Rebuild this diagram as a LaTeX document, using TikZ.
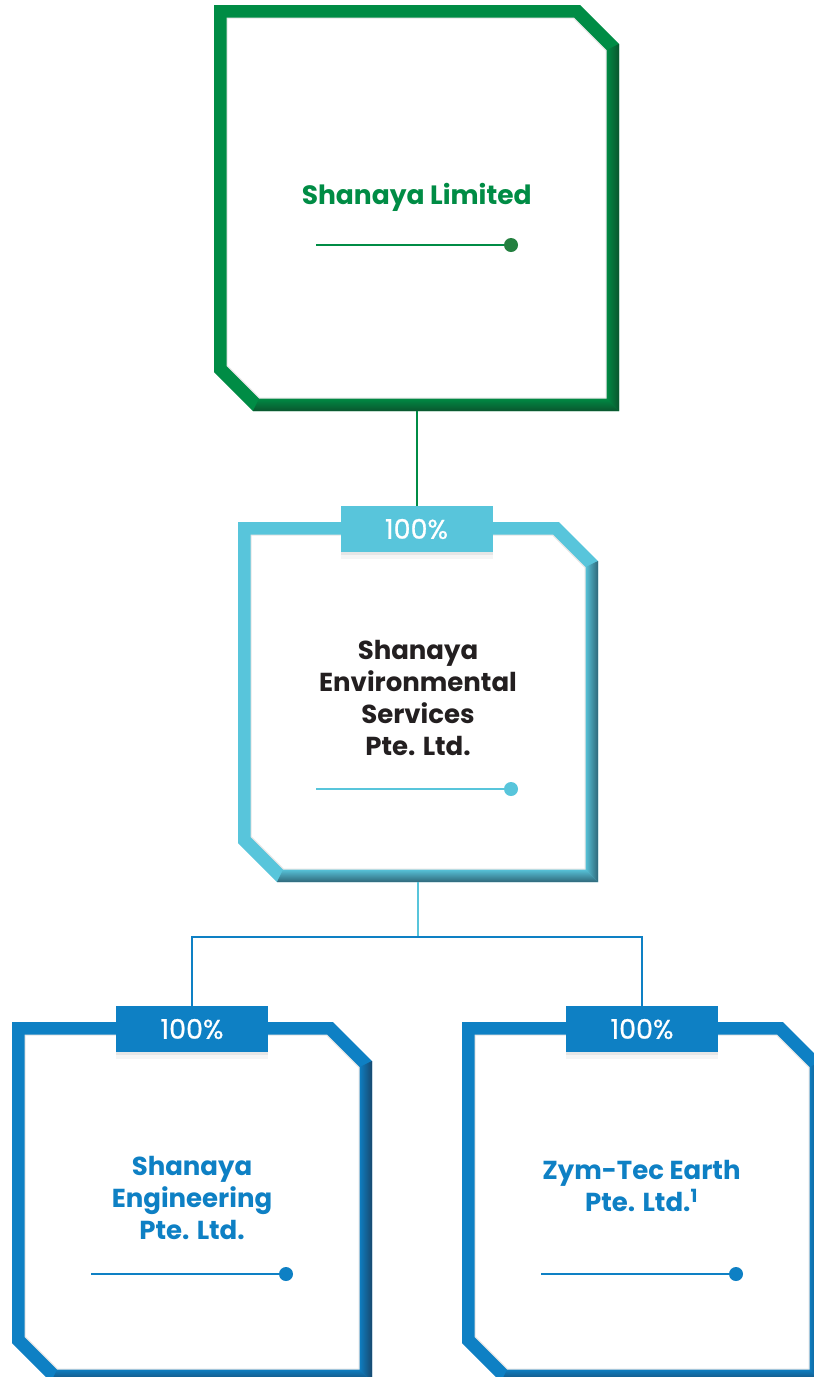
\documentclass[tikz,border=0pt]{standalone}
\usepackage{fontspec}
\setmainfont{Poppins}
\newfontfamily\pctfont[FakeBold=0.8]{Poppins}
\usetikzlibrary{shadows}
\definecolor{shgreen}{RGB}{0,140,69}
\definecolor{shgreendk}{RGB}{10,86,46}
\definecolor{shgreendot}{RGB}{36,128,64}
\definecolor{shcyan}{RGB}{88,197,219}
\definecolor{shcyandk}{RGB}{48,104,122}
\definecolor{shblue}{RGB}{14,128,196}
\definecolor{shbluedk}{RGB}{24,72,110}
\definecolor{shink}{RGB}{35,31,32}
\begin{document}
\begin{tikzpicture}[x=1pt,y=-1pt,
	pctbox/.style={fill=#1,text=white,minimum width=152pt,minimum height=46pt,inner sep=0pt,
		font=\pctfont\fontsize{27}{27}\selectfont,
		drop shadow={opacity=.12,shadow xshift=0pt,shadow yshift=-3pt},
		drop shadow={opacity=.08,shadow xshift=0pt,shadow yshift=-7pt}},
	boxarea/.style={minimum width=#1,minimum height=360pt,inner sep=0pt},
	firmtext/.style={align=center,font=\bfseries\fontsize{26}{32}\selectfont}]
	\useasboundingbox (0,0) rectangle (814,1377);
	% frames: outer chamfer 39, band 13, inner chamfer 32.4
	\foreach \bx/\by/\w/\h/\col in {214/5/405/406/green,238/522/360/360/cyan,12/1022/360/360/blue,462/1022/360/360/blue}{
		\fill[sh\col] (\bx,\by) -- ++(\w-39,0) -- ++(39,39) -- ++(0,\h-39) -- ++(-\w+39,0) -- ++(-39,-39) -- cycle;
		\shade[left color=sh\col,right color=sh\col dk] (\bx+\w-13,\by+45.4) -- (\bx+\w,\by+39) -- (\bx+\w,\by+\h) -- (\bx+\w-13,\by+\h-13) -- cycle;
		\shade[top color=sh\col,bottom color=sh\col dk] (\bx+45.4,\by+\h-13) -- (\bx+\w-13,\by+\h-13) -- (\bx+\w,\by+\h) -- (\bx+39,\by+\h) -- cycle;
		\fill[white,draw=black!10,line width=1pt] (\bx+13,\by+13) -- ++(\w-58.4,0) -- ++(32.4,32.4) -- ++(0,\h-58.4) -- ++(-\w+58.4,0) -- ++(-32.4,-32.4) -- cycle;
	}
	\node[boxarea=405pt,minimum height=406pt] (ltd) at (416.5,208) {};
	\node[boxarea=360pt] (ses) at (418,702) {};
	\node[boxarea=360pt] (eng) at (192,1202) {};
	\node[boxarea=360pt] (zym) at (642,1202) {};

	\node[pctbox=shcyan] (pses) at (416.5,529) {100\%};
	\node[pctbox=shblue] (peng) at (192,1029) {100\%};
	\node[pctbox=shblue] (pzym) at (642,1029) {100\%};

	\draw[shgreen,line width=2pt] (ltd.south) -- (pses.north);
	\draw[shcyan,line width=2pt] (ses.south) -- ++(0,55) coordinate (fork);
	\draw[shblue,line width=2pt] (peng.north) -- (peng.north |- fork) -- (pzym.north |- fork) -- (pzym.north);

	\node[text=shgreen,font=\bfseries\fontsize{26.5}{32}\selectfont,anchor=base] (ltdname) at (416.7,204) {Shanaya Limited};
	\node[firmtext,text=shink] (sesname) at (418,698) {Shanaya\\Environmental\\Services\\Pte. Ltd.};
	\node[firmtext,text=shblue] (engname) at (192,1197.5) {Shanaya\\Engineering\\Pte. Ltd.};
	\node[firmtext,text=shblue] (zymname) at (641.5,1186) {Zym-Tec Earth\\Pte. Ltd.\textsuperscript{1}};

	\draw[shgreen,line width=2pt] (316,245) -- (511,245);
	\fill[shgreendot] (511,245) circle (7pt);
	\draw[shcyan,line width=2pt] (316,789) -- (511,789);
	\fill[shcyan] (511,789) circle (7pt);
	\draw[shblue,line width=2pt] (91,1274) -- (286,1274);
	\fill[shblue] (286,1274) circle (7pt);
	\draw[shblue,line width=2pt] (541,1274) -- (736,1274);
	\fill[shblue] (736,1274) circle (7pt);
\end{tikzpicture}
\end{document}
